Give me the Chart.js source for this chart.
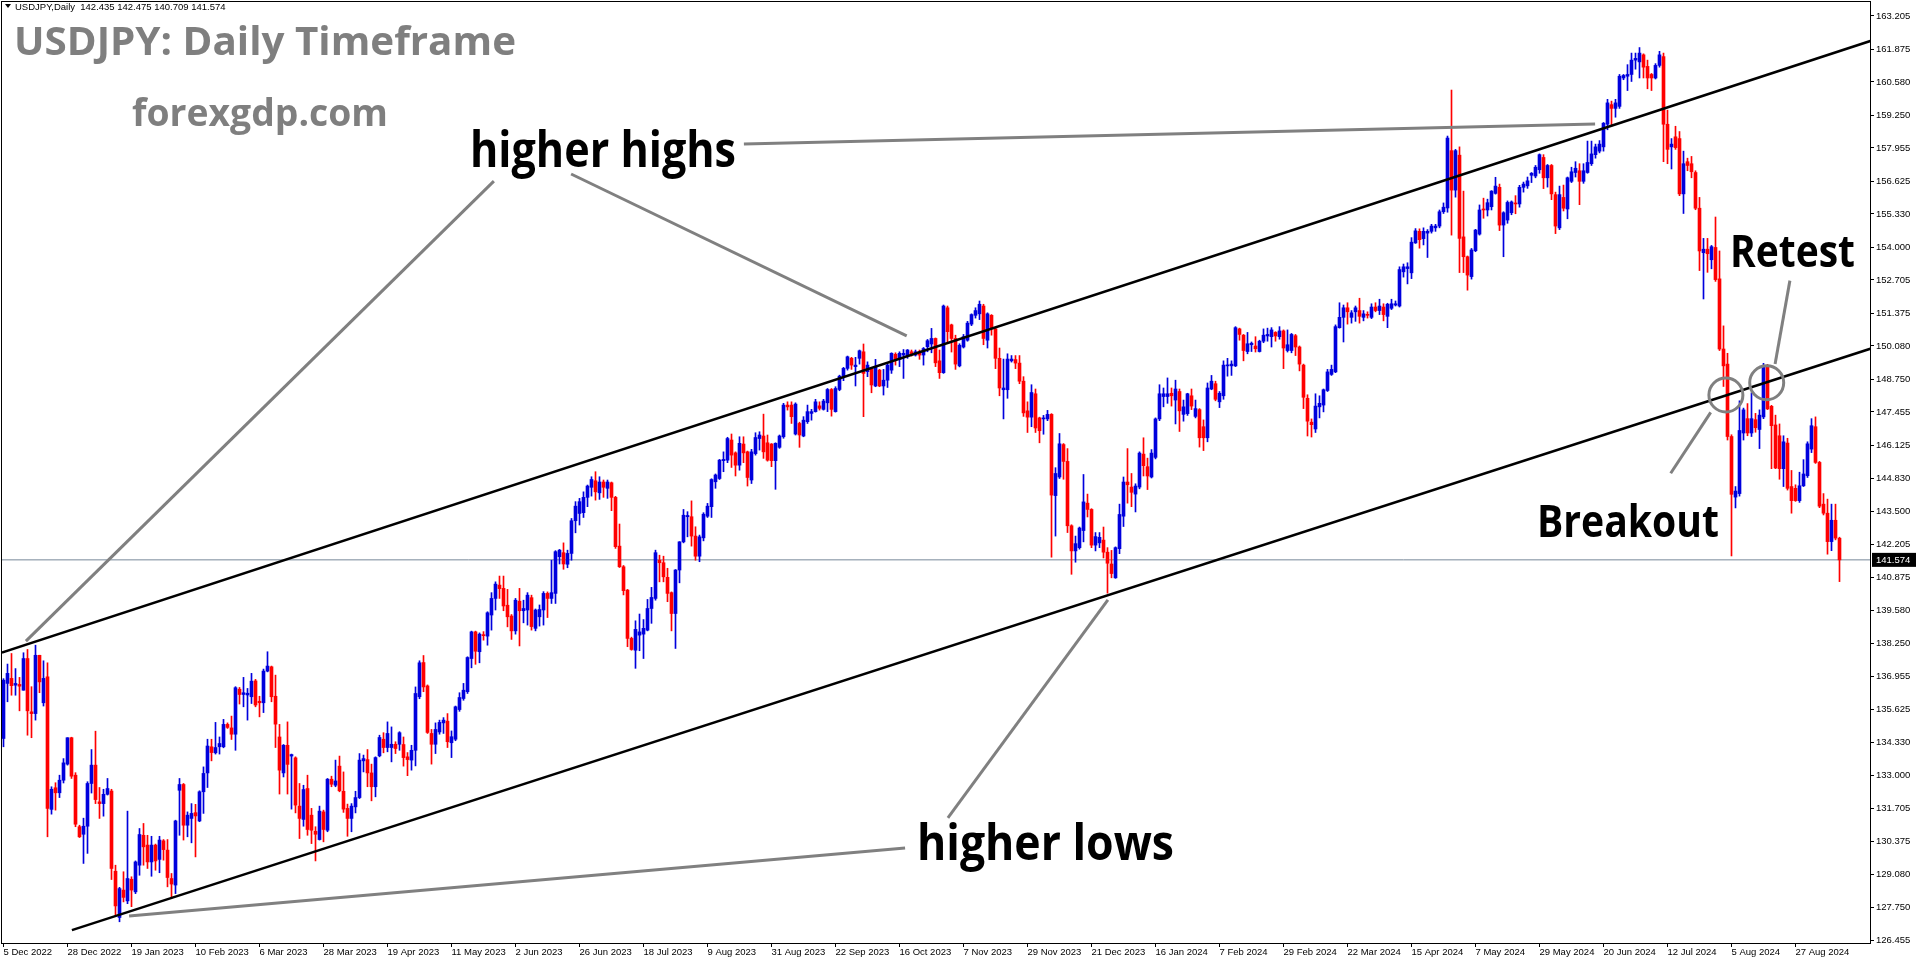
<!DOCTYPE html>
<html>
<head>
<meta charset="utf-8">
<title>USDJPY Daily</title>
<script src="https://cdn.jsdelivr.net/npm/chart.js@4.4.1/dist/chart.umd.min.js"></script>
<style>
html,body{margin:0;padding:0;background:#fff;overflow:hidden}
#wrap{width:1916px;height:964px}
</style>
</head>
<body>
<div id="wrap"><canvas id="c" width="1916" height="964"></canvas></div>
<script>
// daily candles, 5 Dec 2022 -> 11 Sep 2024 (bar index = position)
const opens = [
134.47,136.66,136.86,136.59,136.62,136.39,137.65,135.53,135.46,137.78,
135.89,136.92,131.65,132.51,132.31,132.81,133.45,134.50,133.01,130.96,
130.66,130.98,132.68,133.41,131.95,131.88,132.25,132.38,129.19,127.35,
128.44,128.01,128.87,128.37,129.43,130.62,130.23,129.56,130.23,129.66,
130.40,130.03,128.90,128.64,132.41,132.64,131.02,131.29,131.52,131.19,
132.35,133.10,134.14,133.90,134.14,134.14,135.03,134.89,134.64,136.43,
136.22,136.20,136.13,136.76,135.95,135.89,137.15,137.32,136.15,134.53,
133.10,134.20,133.77,133.70,131.78,131.25,132.48,131.42,130.78,130.45,
131.55,130.82,132.85,132.61,133.37,132.37,131.69,131.29,131.75,132.12,
133.58,133.63,133.10,132.55,133.78,134.44,134.11,134.11,134.24,134.24,
134.23,133.74,133.61,134.00,136.13,137.49,136.56,134.67,134.24,134.73,
135.09,135.16,134.30,134.44,135.62,136.06,136.33,137.65,138.71,137.92,
138.60,138.54,139.38,140.04,140.57,140.44,139.77,139.34,138.75,139.93,
139.55,139.58,140.07,138.85,139.31,139.58,140.24,140.04,140.24,141.70,
141.86,141.40,141.83,143.13,143.42,143.45,144.06,144.46,144.72,144.24,
144.67,144.42,144.64,144.06,142.12,141.30,140.37,138.45,137.98,138.58,
138.62,138.78,139.64,140.04,141.56,141.46,140.88,140.27,139.44,141.17,
142.29,143.29,143.29,142.52,141.72,142.45,143.31,143.69,144.68,144.81,
145.52,145.54,146.34,145.83,145.34,146.18,145.87,144.75,145.80,146.40,
146.50,146.23,146.18,145.52,146.05,146.47,147.73,147.73,146.58,147.00,
146.50,147.07,147.40,147.47,147.70,147.56,147.82,148.35,147.47,148.35,
148.88,149.19,149.59,149.26,149.59,149.85,149.06,149.15,148.49,149.12,
148.49,148.72,149.12,149.75,149.55,149.72,149.68,149.85,149.72,149.85,
149.72,150.05,150.16,150.38,149.49,149.02,151.60,150.92,150.38,149.29,
150.04,150.31,150.95,151.30,151.36,151.67,150.31,151.30,150.76,149.59,
148.34,148.34,149.49,149.54,149.40,148.68,147.50,147.25,148.18,147.22,
147.18,147.18,147.36,144.13,144.87,146.16,145.49,142.93,141.93,142.06,
142.74,143.83,143.58,142.16,142.25,142.36,141.88,141.41,140.86,142.02,
143.31,144.67,144.47,144.19,144.47,145.78,145.28,144.87,145.65,147.18,
148.07,148.07,148.20,147.93,148.27,147.36,147.39,148.10,147.28,147.55,
146.87,146.43,148.37,148.58,147.86,148.10,149.29,149.29,149.29,150.76,
150.51,149.86,150.13,150.08,149.86,150.27,150.48,150.45,150.62,150.45,
150.68,149.90,149.90,150.49,150.04,149.32,148.00,147.05,146.78,147.66,
147.73,148.31,148.95,149.05,150.81,151.22,151.60,151.22,151.44,151.49,
151.22,151.33,151.22,151.63,151.49,151.63,151.26,151.58,151.71,151.67,
153.03,153.16,152.99,154.18,154.64,154.35,154.57,154.64,154.78,154.85,
155.42,155.57,157.85,156.28,157.67,154.42,153.63,152.84,153.87,154.53,
155.52,155.49,155.62,156.15,156.39,154.89,155.09,155.38,155.77,155.73,
156.39,156.45,156.87,156.84,157.09,157.58,156.77,157.26,156.10,154.78,
155.99,155.53,156.63,156.98,157.05,156.63,156.98,157.33,157.69,157.83,
158.00,158.90,159.68,159.53,159.61,160.74,160.81,160.88,161.45,161.38,
161.66,161.20,160.88,160.74,161.24,161.59,158.90,158.00,158.40,158.33,
156.13,157.41,157.33,156.98,155.56,153.79,153.93,153.51,154.00,152.75,
149.96,149.36,146.48,144.07,144.21,146.62,147.19,146.62,147.15,146.76,
147.26,149.29,147.68,146.94,146.51,145.20,146.22,144.49,144.42,143.93,
144.52,144.92,145.98,146.87,145.45,143.79,143.43,142.30,143.15,142.435
];
const highs = [
136.85,137.43,137.85,137.25,136.90,137.88,138.01,136.53,138.18,137.78,
137.56,137.48,132.55,132.71,133.01,133.67,134.50,134.52,133.11,131.02,
131.30,132.75,134.03,134.76,132.52,132.45,132.88,132.45,129.43,128.55,
129.17,131.58,128.97,129.60,130.89,131.09,130.62,130.58,130.27,130.58,
130.45,130.45,129.10,131.22,132.88,132.68,131.55,131.88,131.85,132.39,
133.34,134.44,134.44,135.11,134.53,135.23,135.09,135.36,136.53,136.50,
136.90,136.46,137.06,136.82,136.15,137.23,137.92,137.35,136.99,135.03,
134.23,135.13,133.85,133.74,132.68,132.61,133.01,131.69,130.96,131.78,
131.62,132.88,132.97,133.61,133.77,133.14,131.86,131.88,132.37,133.87,
133.81,134.03,133.45,133.74,134.60,134.70,135.13,134.93,134.34,134.74,
134.53,133.91,134.20,136.52,137.56,137.77,136.60,134.83,135.09,135.20,
135.30,135.46,134.77,135.76,136.29,136.66,137.72,138.74,138.74,138.67,
138.72,139.51,140.27,140.70,140.93,140.93,140.40,139.40,140.04,140.44,
139.97,140.27,140.17,139.62,139.78,140.31,140.30,141.56,141.94,141.99,
142.25,141.96,143.22,143.89,144.02,144.28,144.55,144.88,145.08,144.88,
144.75,144.75,144.67,144.10,143.00,141.35,140.40,138.50,139.15,139.42,
139.20,140.00,140.48,141.96,141.76,141.72,141.24,140.30,141.19,142.30,
143.58,143.49,143.92,142.89,142.56,143.45,143.82,144.80,144.99,145.57,
145.87,146.45,146.58,145.87,146.47,146.47,145.90,145.97,146.63,146.67,
147.37,146.54,146.20,146.23,146.54,147.80,147.86,147.86,147.82,147.05,
147.27,147.73,147.56,147.96,147.86,147.96,148.39,148.39,148.46,148.92,
149.23,149.68,149.63,149.63,149.92,150.16,149.45,149.19,149.55,149.15,
149.15,149.39,149.81,149.81,149.85,149.94,149.94,149.92,149.92,149.92,
150.02,150.34,150.78,150.40,149.92,151.71,151.67,150.95,150.51,150.17,
150.54,151.06,151.36,151.60,151.87,151.74,151.40,151.33,150.79,150.00,
149.56,149.77,149.70,149.70,149.70,148.86,147.86,148.54,148.37,147.25,
147.32,147.52,147.39,145.24,146.60,146.20,146.00,142.97,142.52,142.88,
144.97,144.19,143.61,142.66,142.66,142.88,142.06,141.95,142.09,143.79,
144.87,146.00,145.01,144.60,145.87,146.43,145.62,145.96,147.22,148.54,
148.41,148.81,148.41,148.72,148.37,147.93,148.20,148.37,147.93,147.59,
147.14,148.61,148.91,148.68,148.27,149.49,149.59,149.49,150.85,150.79,
150.54,150.62,150.24,150.45,150.31,150.76,150.79,150.81,150.65,150.85,
150.72,150.72,150.58,150.54,150.08,149.36,148.14,147.18,148.18,148.10,
148.37,149.15,149.32,150.92,151.80,151.71,151.80,151.49,151.67,151.98,
151.49,151.44,151.76,151.80,151.94,151.76,151.78,151.94,151.87,153.23,
153.34,153.39,154.39,154.75,154.74,154.78,154.71,154.92,154.92,155.49,
155.77,158.43,160.26,157.90,158.00,156.24,153.66,153.96,154.72,155.69,
155.96,155.92,156.26,156.79,156.52,155.42,155.85,155.85,156.06,156.47,
156.60,156.80,156.98,157.26,157.72,157.69,157.30,157.30,156.20,156.44,
156.48,156.80,157.19,157.41,157.33,157.33,158.23,158.23,158.11,158.25,
158.97,159.89,159.82,159.89,160.88,160.88,161.27,161.73,161.73,161.95,
161.70,161.45,160.92,161.31,161.80,161.73,159.46,158.33,158.82,158.61,
157.83,157.55,157.62,157.05,155.99,154.36,154.36,154.08,155.21,153.86,
150.88,149.79,146.55,144.49,147.90,147.61,147.79,148.22,147.40,147.54,
149.39,149.35,147.72,147.33,146.98,146.51,146.41,145.13,144.56,145.06,
145.56,146.27,147.19,147.26,145.49,144.21,143.99,143.79,143.79,142.475
];
const lows = [
134.14,135.93,136.19,136.19,135.57,136.39,134.60,134.50,135.20,136.29,
135.76,130.56,131.46,131.62,132.12,132.70,133.41,132.88,130.96,130.53,
129.50,129.90,132.30,131.88,131.29,131.38,132.22,128.86,127.44,127.18,
127.97,127.90,127.78,128.30,129.03,129.43,129.30,128.99,129.23,129.13,
129.63,128.57,128.11,128.30,130.62,130.43,130.56,130.32,129.76,131.16,
131.49,132.52,133.58,133.85,133.85,134.10,134.87,134.43,134.00,135.84,
135.73,135.20,135.86,135.73,135.33,135.50,137.12,135.93,134.11,132.26,
132.94,132.26,131.66,131.51,130.49,130.98,130.62,130.29,129.60,130.43,
130.36,130.76,132.55,132.55,132.35,131.53,130.58,130.76,131.51,132.08,
133.14,132.55,131.99,132.15,133.74,133.90,133.94,133.54,133.87,134.00,
133.37,132.99,133.21,133.38,136.05,136.33,134.67,133.45,133.87,134.64,
134.67,134.11,133.71,134.38,135.55,135.99,136.26,137.28,137.42,137.48,
138.38,138.18,138.78,139.58,140.04,139.55,138.91,138.41,138.62,138.15,
139.07,138.98,138.78,138.75,138.94,138.98,139.28,139.84,139.84,141.41,
141.20,141.26,141.56,142.65,142.96,143.26,143.69,144.11,143.95,143.98,
144.06,144.02,143.53,142.03,141.27,140.18,138.12,137.98,137.26,137.96,
137.65,138.75,139.05,139.97,140.70,140.70,139.91,138.75,138.05,140.66,
142.25,142.49,142.12,141.56,141.50,142.33,143.26,143.26,144.42,144.77,
145.08,145.44,145.25,144.91,145.14,145.44,144.51,144.61,145.74,145.94,
145.61,145.50,145.28,144.38,146.01,146.41,147.53,147.00,146.54,146.05,
146.47,147.00,147.13,147.45,147.53,147.53,147.47,147.29,147.45,148.30,
148.70,149.12,149.15,148.49,149.36,147.27,148.86,148.22,148.46,148.46,
148.13,148.43,148.99,149.32,149.26,148.79,149.59,149.68,149.68,149.55,
149.32,149.85,149.81,149.26,148.79,148.99,150.24,149.84,149.15,149.25,
150.00,150.27,150.89,151.19,151.13,150.13,150.00,150.51,149.18,148.10,
147.18,148.00,149.44,149.18,148.58,147.28,146.64,146.87,146.64,146.23,
146.57,147.11,141.68,142.52,144.81,144.78,142.66,141.00,141.48,142.00,
142.29,143.28,142.06,141.93,142.06,141.65,140.25,140.86,140.84,141.82,
142.90,143.83,143.69,143.48,144.40,144.91,144.37,144.83,145.59,147.11,
147.66,147.80,147.69,146.98,146.68,147.09,147.32,147.55,147.22,146.06,
145.92,146.27,148.34,147.90,147.63,147.96,148.88,148.91,149.26,150.31,
149.49,149.77,149.86,149.84,149.84,150.21,150.27,150.04,150.27,150.35,
149.18,149.84,149.81,149.70,149.09,147.59,146.50,146.46,146.64,147.22,
147.46,148.27,148.91,149.02,150.79,150.24,150.95,150.99,151.06,150.99,
151.08,151.19,151.17,151.44,151.33,151.08,150.81,151.53,151.67,151.63,
152.82,152.55,152.76,154.16,153.97,154.10,153.60,154.57,154.64,154.78,
155.35,155.40,154.49,156.00,153.00,153.00,152.30,152.74,153.83,154.49,
155.16,155.25,155.49,156.12,154.67,153.63,154.96,155.30,155.34,155.60,
156.20,156.35,156.58,156.77,156.95,156.34,156.40,155.90,154.55,154.71,
155.45,155.14,156.58,156.80,155.70,156.55,156.95,157.26,157.55,157.76,
157.83,158.68,158.82,159.18,159.53,160.67,160.24,160.60,161.09,160.74,
160.74,160.31,160.24,160.70,161.17,157.41,157.33,157.12,157.90,156.06,
155.35,157.05,156.77,155.50,153.08,151.95,153.01,153.15,152.65,149.90,
148.47,146.34,141.73,143.64,144.11,146.34,146.51,146.48,146.65,146.00,
147.19,147.55,145.20,145.20,144.78,144.49,144.35,143.43,143.90,143.86,
144.49,144.85,145.84,145.41,143.65,143.36,141.80,141.94,142.37,140.709
];
const closes = [
136.79,137.06,136.57,136.66,136.55,137.65,135.57,135.46,137.78,136.72,
136.86,131.69,132.45,132.31,132.81,133.50,134.50,132.97,131.06,130.56,
130.98,132.68,133.41,132.04,131.88,132.25,132.48,129.30,127.81,128.50,
128.15,128.90,128.44,129.56,130.65,130.16,129.56,130.23,129.60,130.43,
130.05,128.94,128.68,131.19,132.64,131.02,131.42,131.49,131.39,132.35,
133.08,134.17,133.91,134.11,134.27,135.03,134.91,134.64,136.49,136.22,
136.29,136.27,136.75,135.80,135.89,137.15,137.35,136.13,135.04,133.21,
134.20,133.44,133.83,131.82,131.29,132.44,130.85,130.82,130.66,131.58,
130.85,132.85,132.65,132.78,132.39,131.66,131.29,131.78,132.12,133.61,
133.67,133.10,132.55,133.71,134.51,134.11,134.67,134.24,134.07,134.70,
133.71,133.63,134.00,136.26,137.48,136.52,134.71,134.24,134.83,135.11,
135.20,134.34,134.54,135.73,136.10,136.39,137.69,138.71,137.94,138.62,
138.56,139.47,140.04,140.61,140.43,139.74,139.31,138.75,139.97,139.55,
139.64,140.17,138.92,139.58,139.60,140.24,140.04,140.27,141.90,141.96,
141.41,141.83,143.13,143.71,143.89,144.06,144.51,144.77,144.28,144.67,
144.46,144.67,144.06,142.10,141.30,140.35,138.45,138.01,138.81,138.71,
138.85,139.64,140.08,141.86,141.46,140.90,140.24,139.44,141.17,142.29,
143.35,143.34,142.52,141.72,142.49,143.39,143.71,144.77,144.95,145.54,
145.57,146.40,145.74,145.34,146.21,145.83,144.85,145.87,146.44,146.54,
145.87,145.54,145.52,146.21,146.50,147.73,147.66,147.27,147.77,146.54,
147.13,147.47,147.47,147.86,147.60,147.89,148.35,147.56,148.39,148.88,
149.19,149.65,149.32,149.32,149.89,148.99,149.32,148.53,149.26,148.49,
148.72,149.32,149.79,149.55,149.79,149.79,149.92,149.75,149.85,149.72,
149.98,150.29,150.38,149.41,149.02,151.67,150.65,150.38,149.36,150.11,
150.45,150.99,151.33,151.49,151.74,150.38,151.36,150.81,149.59,148.41,
148.41,149.56,149.56,149.40,148.68,147.42,147.25,148.23,146.82,146.71,
147.22,147.36,144.15,145.01,146.19,145.49,142.93,141.93,142.22,142.84,
143.88,143.58,142.16,142.50,142.47,141.88,141.44,141.03,142.06,143.38,
144.67,144.56,144.26,144.51,145.82,145.32,144.91,145.82,147.18,148.18,
148.18,148.18,148.10,148.37,147.50,147.66,148.18,147.69,147.59,146.43,
146.43,148.41,148.68,147.96,148.20,149.32,149.32,149.36,150.81,150.54,
149.90,150.17,150.19,149.97,150.27,150.51,150.54,150.72,150.48,150.68,
150.00,150.13,150.54,150.04,149.36,148.04,147.09,146.95,147.69,147.80,
148.34,149.05,149.15,150.85,151.22,151.60,151.44,151.40,151.60,151.26,
151.36,151.30,151.63,151.49,151.67,151.33,151.74,151.76,151.76,153.12,
153.23,153.23,154.21,154.66,154.31,154.64,154.64,154.85,154.85,155.42,
155.60,158.35,156.28,157.85,154.36,153.63,152.90,153.90,154.69,155.49,
155.49,155.78,156.24,156.44,154.89,155.38,155.79,155.81,155.73,156.39,
156.52,156.65,156.95,157.19,157.69,156.77,157.26,156.13,154.85,156.10,
155.56,156.77,157.01,157.15,156.63,157.05,157.38,157.72,158.00,158.11,
158.94,159.75,159.53,159.75,160.81,160.84,160.88,161.45,161.52,161.73,
161.17,160.74,160.74,161.24,161.66,158.90,157.90,158.11,157.97,156.13,
157.33,157.26,157.01,155.56,153.86,153.93,153.75,154.03,152.72,149.96,
149.29,146.48,144.18,144.31,146.72,147.54,146.62,147.19,146.83,147.33,
149.25,147.58,146.91,145.23,145.20,146.27,144.42,143.93,143.93,144.52,
144.99,146.19,146.91,145.45,143.71,143.43,142.30,143.15,142.44,141.574
];

// axis labels (x labels every 16 bars)
const xTickLabels = ["5 Dec 2022","28 Dec 2022","19 Jan 2023","10 Feb 2023","6 Mar 2023","28 Mar 2023",
  "19 Apr 2023","11 May 2023","2 Jun 2023","26 Jun 2023","18 Jul 2023","9 Aug 2023","31 Aug 2023",
  "22 Sep 2023","16 Oct 2023","7 Nov 2023","29 Nov 2023","21 Dec 2023","16 Jan 2024","7 Feb 2024",
  "29 Feb 2024","22 Mar 2024","15 Apr 2024","7 May 2024","29 May 2024","20 Jun 2024","12 Jul 2024",
  "5 Aug 2024","27 Aug 2024"];
const yTickLabels = ["163.205","161.875","160.580","159.250","157.955","156.625","155.330","154.000",
  "152.705","151.375","150.080","148.750","147.455","146.125","144.830","143.500","142.205","140.875",
  "139.580","138.250","136.955","135.625","134.330","133.000","131.705","130.375","129.080","127.750","126.455"];
const lastQuote = { open: 142.435, high: 142.475, low: 140.709, close: 141.574 };

// drawn objects, as [bar index, price] anchors
const upperChannel = [[-0.4, 137.89], [466.7, 162.21]];
const lowerChannel = [[17.1, 126.85], [466.7, 149.97]];
const highsPointers = [
  [[122.6, 156.64], [5.6, 138.34]],
  [[141.9, 156.92], [225.8, 150.48]],
  [[185.1, 158.11], [397.9, 158.91]]
];
const lowsPointers = [
  [[31.4, 127.41], [225.4, 130.11]],
  [[236.1, 131.31], [276.1, 139.98]]
];
const breakoutPointer = [[416.8, 145.02], [426.8, 147.44]];
const retestPointer = [[446.6, 152.68], [442.9, 149.36]];
const circleMarks = [[430.6, 148.13], [440.8, 148.62]];

const BULL = "#0000dd", BEAR = "#ff0000", GRAY = "#808080";
const axisFont = { family: '"Liberation Sans", Arial, sans-serif', size: 9.5 };

const pts = (arr) => arr.map(p => ({ x: p[0], y: p[1] }));
const isBull = (i) => closes[i] >= opens[i];
const candleColor = (ctx) => isBull(ctx.dataIndex) ? BULL : BEAR;

const wickData = opens.map((o, i) => ({
  x: i, y: [Math.min(lows[i], o, closes[i]), Math.max(highs[i], o, closes[i])]
}));
const bodyData = opens.map((o, i) => ({ x: i, y: [o, closes[i]] }));

function lineSet(points, color, width, order) {
  return {
    type: "line", data: pts(points), borderColor: color, borderWidth: width,
    pointRadius: 0, fill: false, tension: 0, order: order
  };
}

const datasets = [
  lineSet([[-1, lastQuote.close], [470, lastQuote.close]], "#778899", 1, 10),
  { type: "bar", data: wickData, barThickness: 1, grouped: false,
    backgroundColor: candleColor, order: 6 },
  { type: "bar", data: bodyData, barThickness: 3, minBarLength: 1, grouped: false,
    backgroundColor: candleColor, order: 5 },
  lineSet(upperChannel, "#000", 2.5, 4),
  lineSet(lowerChannel, "#000", 2.5, 4)
];
highsPointers.concat(lowsPointers, [breakoutPointer, retestPointer]).forEach(p => {
  datasets.push(lineSet(p, GRAY, 3, 3));
});
datasets.push({
  type: "scatter", data: pts(circleMarks), pointRadius: 17, pointBorderWidth: 3,
  pointBorderColor: GRAY, pointBackgroundColor: "rgba(0,0,0,0)", order: 2
});

// text that sits on the chart
function fitText(ctx, txt, x, y, size, width, color) {
  ctx.save();
  ctx.font = "bold " + size + 'px "Open Sans", "Noto Sans", sans-serif';
  ctx.fillStyle = color;
  ctx.textBaseline = "alphabetic";
  const w = ctx.measureText(txt).width;
  ctx.translate(x, y);
  ctx.scale(width / w, 1);
  ctx.fillText(txt, 0, 0);
  ctx.restore();
}

const overlay = {
  id: "overlay",
  afterDraw(chart) {
    const ctx = chart.ctx, a = chart.chartArea;
    ctx.save();
    // frame
    ctx.strokeStyle = "#000";
    ctx.lineWidth = 1;
    ctx.strokeRect(Math.round(a.left) - 0.5, Math.round(a.top) - 0.5,
      Math.round(a.right - a.left) + 1, Math.round(a.bottom - a.top) + 1);
    // header line
    ctx.fillStyle = "#000";
    ctx.beginPath();
    ctx.moveTo(5, 4); ctx.lineTo(11, 4); ctx.lineTo(8, 8); ctx.closePath(); ctx.fill();
    ctx.font = '9.5px "Liberation Sans", Arial, sans-serif';
    ctx.textBaseline = "middle";
    ctx.fillText("USDJPY,Daily  " + [lastQuote.open, lastQuote.high, lastQuote.low, lastQuote.close]
      .map(v => v.toFixed(3)).join(" "), 15, 7);
    // last price box
    const py = chart.scales.y.getPixelForValue(lastQuote.close);
    ctx.fillStyle = "#000";
    ctx.fillRect(a.right + 2, py - 7, 1916 - a.right - 2, 14);
    ctx.fillStyle = "#fff";
    ctx.fillText(lastQuote.close.toFixed(3), a.right + 6, py + 0.5);
    ctx.restore();

    fitText(ctx, "USDJPY: Daily Timeframe", 14, 55, 39, 502, "#7f7f7f");
    fitText(ctx, "forexgdp.com", 132, 126, 37, 256, "#7f7f7f");
    fitText(ctx, "higher highs", 470, 167, 50, 266, "#000");
    fitText(ctx, "higher lows", 917, 860, 50, 257, "#000");
    fitText(ctx, "Retest", 1730, 267, 45, 125, "#000");
    fitText(ctx, "Breakout", 1537, 537, 45, 182, "#000");
  }
};

new Chart(document.getElementById("c"), {
  data: { datasets: datasets },
  options: {
    responsive: false,
    devicePixelRatio: 1,
    animation: false,
    events: [],
    layout: { autoPadding: false, padding: { top: 2, left: 2, right: 0, bottom: 0 } },
    plugins: { legend: { display: false }, tooltip: { enabled: false } },
    scales: {
      x: {
        type: "linear", position: "bottom", min: -0.375, max: 466.625, offset: false,
        grid: { drawOnChartArea: false, drawTicks: true, tickLength: 4, color: "#000", offset: false },
        border: { display: true, color: "#000" },
        ticks: {
          autoSkip: false, maxRotation: 0, align: "start", padding: 0, color: "#000", font: axisFont,
          callback: (v, i) => xTickLabels[i]
        },
        afterBuildTicks: (s) => { s.ticks = xTickLabels.map((t, i) => ({ value: i * 16 })); },
        afterFit: (s) => { s.height = 21; s.paddingLeft = 0; s.paddingRight = 0; }
      },
      y: {
        type: "linear", position: "right", min: 126.3357, max: 163.7618,
        grid: { drawOnChartArea: false, drawTicks: true, tickLength: 4, color: "#000" },
        border: { display: true, color: "#000" },
        ticks: {
          autoSkip: false, padding: 2, color: "#000", font: axisFont,
          callback: (v, i) => yTickLabels[i]
        },
        afterBuildTicks: (s) => { s.ticks = yTickLabels.map(t => ({ value: parseFloat(t) })); },
        afterFit: (s) => { s.width = 46; s.paddingTop = 0; s.paddingBottom = 0; }
      }
    }
  },
  plugins: [overlay]
});
</script>
</body>
</html>
